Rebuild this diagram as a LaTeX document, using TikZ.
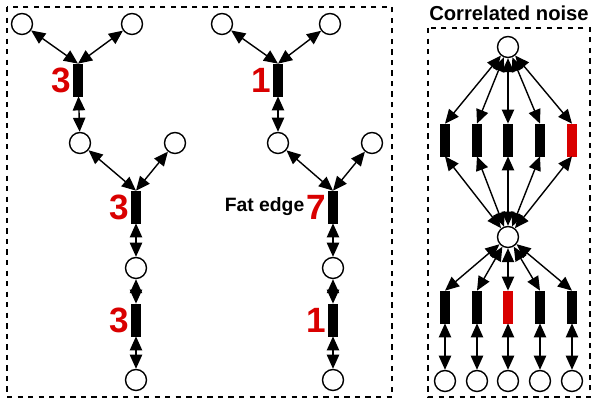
\documentclass[tikz,border=0pt]{standalone}
\usepackage{fontspec}
\setmainfont{Liberation Sans}
\usetikzlibrary{arrows.meta}
\tikzset{
  vtx/.style={draw,thick,shape=circle,minimum size=0.42cm,inner sep=0pt,fill=white},
  fac/.style={draw,fill=black,shape=rectangle,minimum width=0.17cm,minimum height=0.64cm,inner sep=0pt},
  rfac/.style={fac,draw=red!85!black,fill=red!85!black},
  lnk/.style={{Triangle[length=8pt,width=7pt]}-{Triangle[length=8pt,width=7pt]},thick},
  num/.style={text=red!85!black,font=\fontsize{20}{20}\bfseries,anchor=east,inner sep=1pt}
}
\begin{document}
\begin{tikzpicture}[x=0.02cm,y=-0.02cm]
\useasboundingbox (0,0) rectangle (600,404);
\draw[dashed,thick] (7,7) rectangle (392,397);
\draw[dashed,thick] (428,28) rectangle (590,397);
\node [font=\bfseries\fontsize{11.5}{11.5}\selectfont] at (509,13){Correlated noise};
% first tree
\node [vtx,name=a1] at (22,24){};
\node [vtx,name=a2] at (132,24){};
\node [fac,name=f1] at (78,80){};
\node [vtx,name=a3] at (80,143){};
\node [vtx,name=a4] at (175,143){};
\node [fac,name=f2] at (136,207){};
\node [vtx,name=a5] at (136,268){};
\node [fac,name=f3] at (136,320){};
\node [vtx,name=a6] at (136,380){};
\node [num] at (f1.west){3};
\node [num] at (f2.west){3};
\node [num] at (f3.west){3};
\draw[lnk] (a1)--(f1.north);
\draw[lnk] (a2)--(f1.north);
\draw[lnk] (f1)--(a3);
\draw[lnk] (a3)--(f2.north);
\draw[lnk] (a4)--(f2.north);
\draw[lnk] (f2)--(a5);
\draw[lnk] (a5)--(f3);
\draw[lnk] (f3)--(a6);
% second tree
\node [vtx,name=b1] at (222,24){};
\node [vtx,name=b2] at (330,24){};
\node [fac,name=g1] at (278,80){};
\node [vtx,name=b3] at (278,143){};
\node [vtx,name=b4] at (372,143){};
\node [fac,name=g2] at (333,207){};
\node [vtx,name=b5] at (333,268){};
\node [fac,name=g3] at (333,320){};
\node [vtx,name=b6] at (333,380){};
\node [num] at (g1.west){1};
\node [num,name=n7] at (g2.west){7};
\node [num] at (g3.west){1};
\node [anchor=east,inner sep=0pt,font=\bfseries\fontsize{11}{11}\selectfont] at (n7.west){Fat edge};
\draw[lnk] (b1)--(g1.north);
\draw[lnk] (b2)--(g1.north);
\draw[lnk] (g1)--(b3);
\draw[lnk] (b3)--(g2.north);
\draw[lnk] (b4)--(g2.north);
\draw[lnk] (g2)--(b5);
\draw[lnk] (b5)--(g3);
\draw[lnk] (g3)--(b6);
% correlated noise
\node [vtx,name=top] at (508,47){};
\node [vtx,name=mid] at (508,237){};
\foreach \i/\x/\su/\sl in {1/445/fac/fac,2/477/fac/fac,3/508/fac/rfac,4/540/fac/fac,5/572/rfac/fac}{
  \node [\su,name=u\i] at (\x,140){};
  \node [\sl,name=l\i] at (\x,307){};
  \node [vtx,name=c\i] at (\x,381){};
  \draw[lnk] (top)--(u\i.north);
  \draw[lnk] (u\i.south)--(mid);
  \draw[lnk] (mid)--(l\i.north);
  \draw[lnk] (l\i)--(c\i);
}
\end{tikzpicture}
\end{document}
